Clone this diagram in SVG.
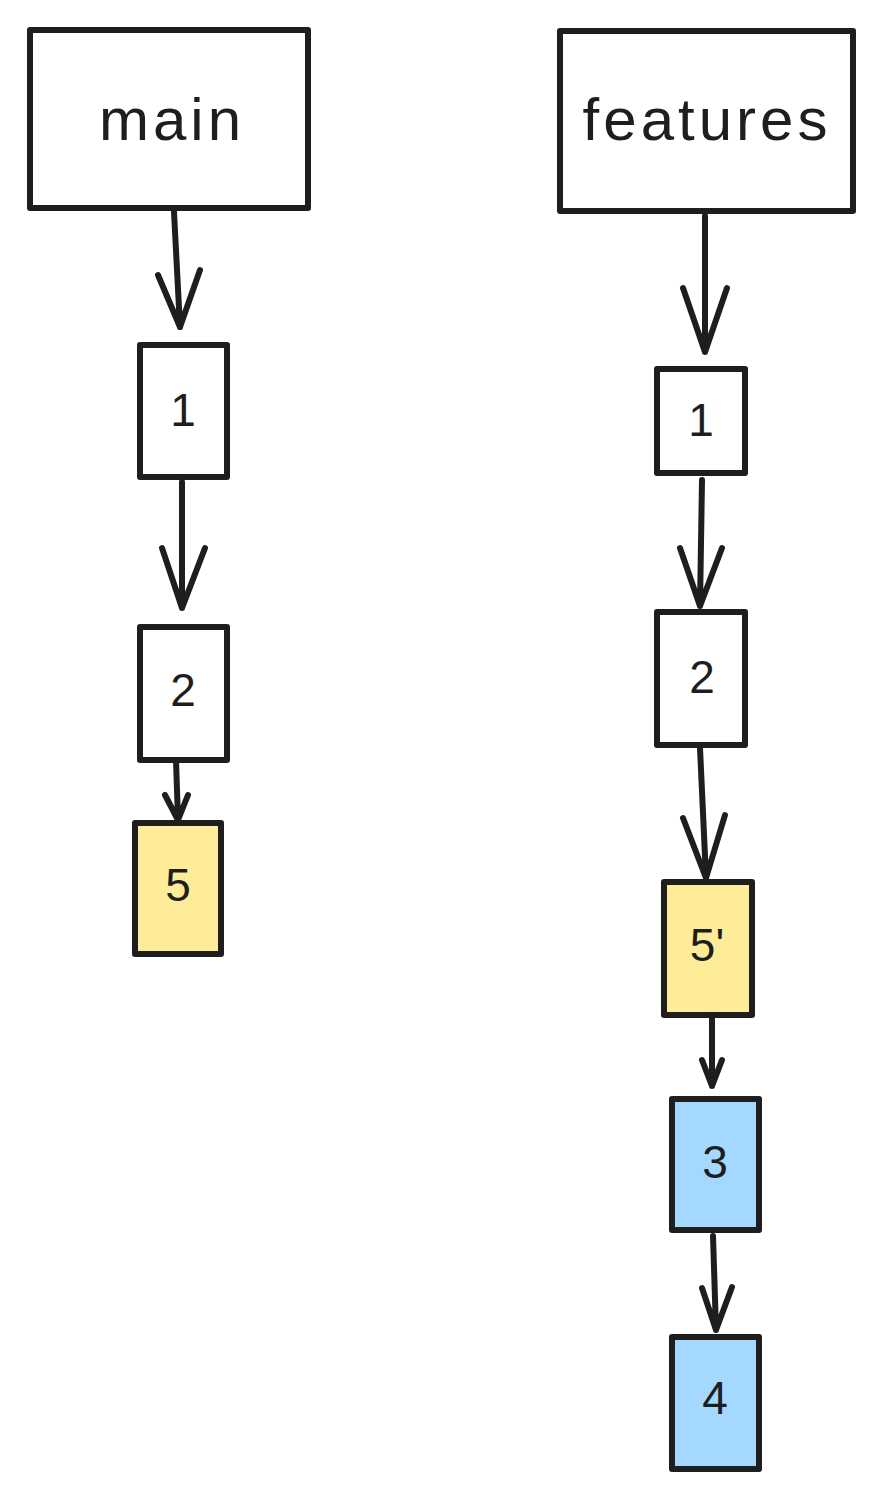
<svg xmlns="http://www.w3.org/2000/svg" width="884" height="1499" viewBox="0 0 884 1499">
<defs>
<style>
.b{stroke:#1e1e1e;stroke-width:6;stroke-linejoin:round;fill:#ffffff}
.y{fill:#ffec99}
.c{fill:#a5d8ff}
.t{font-family:"Liberation Sans",Arial,sans-serif;fill:#1e1e1e;text-anchor:middle;dominant-baseline:central}
.big{font-size:60px;letter-spacing:4px}
.sm{font-size:46px}
.l{stroke:#1e1e1e;stroke-width:6;stroke-linecap:round;stroke-linejoin:round;fill:none}
</style>
</defs>
<rect width="884" height="1499" fill="#ffffff"/>
<g id="main"><rect class="b" x="30" y="30" width="278" height="178"/><text class="t big" x="172" y="119">main</text></g>
<g id="features"><rect class="b" x="560" y="31" width="293" height="180"/><text class="t big" x="707" y="119">features</text></g>
<g id="m1"><rect class="b" x="140" y="345" width="87" height="132"/><text class="t sm" x="183" y="410">1</text></g>
<g id="m2"><rect class="b" x="140" y="627" width="87" height="133"/><text class="t sm" x="183" y="690">2</text></g>
<g id="m5"><rect class="b y" x="135" y="823" width="86" height="131"/><text class="t sm" x="178" y="885">5</text></g>
<g id="f1"><rect class="b" x="657" y="369" width="88" height="104"/><text class="t sm" x="701" y="420">1</text></g>
<g id="f2"><rect class="b" x="657" y="612" width="88" height="133"/><text class="t sm" x="702" y="677">2</text></g>
<g id="f5p"><rect class="b y" x="664" y="882" width="88" height="133"/><text class="t sm" x="707" y="945">5'</text></g>
<g id="f3"><rect class="b c" x="672" y="1099" width="87" height="131"/><text class="t sm" x="715" y="1162">3</text></g>
<g id="f4"><rect class="b c" x="672" y="1337" width="87" height="132"/><text class="t sm" x="715" y="1398">4</text></g>
<g id="connectors">
<path class="l" d="M174 212 L180 327 M158 275 L180 327 L200 270"/>
<path class="l" d="M182 482 L182 608 M162 548 L182 608 L205 548"/>
<path class="l" d="M176 760 L178 820 M165 795 L178 820 L188 795"/>
<path class="l" d="M705 216 L705 352 M683 288 L705 352 L727 288"/>
<path class="l" d="M702 480 L700 606 M680 548 L700 606 L722 548"/>
<path class="l" d="M700 748 L706 878 M683 818 L706 878 L725 815"/>
<path class="l" d="M712 1018 L712 1086 M702 1060 L712 1086 L722 1060"/>
<path class="l" d="M713 1236 L716 1330 M702 1288 L716 1330 L732 1287"/>
</g>
</svg>
